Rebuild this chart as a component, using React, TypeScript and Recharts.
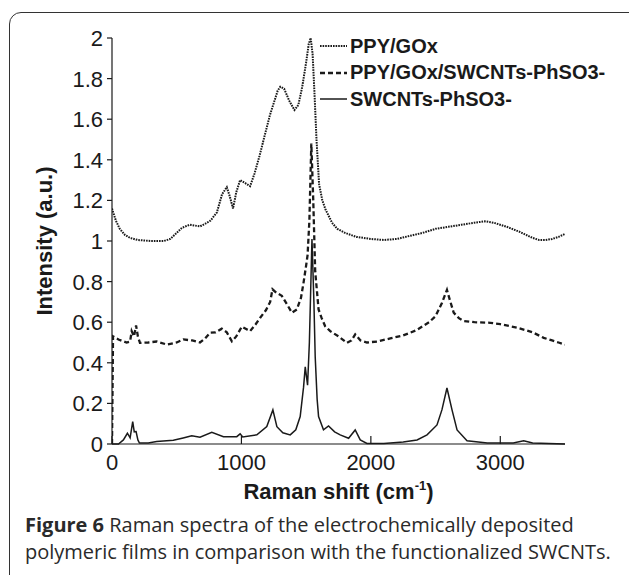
import React from 'react';
import { LineChart, Line, XAxis, YAxis, Label } from 'recharts';

// PPY/GOx (dotted, top trace)
const ppyShift = [0, 30, 60, 100, 140, 200, 300, 400, 450, 500, 540, 600, 680, 720, 760, 810, 850, 887, 910, 935, 960, 990, 1030, 1067, 1100, 1140, 1180, 1220, 1250, 1280, 1300, 1330, 1370, 1410, 1440, 1470, 1500, 1520, 1535, 1550, 1565, 1580, 1600, 1625, 1650, 1700, 1740, 1800, 1890, 2000, 2100, 2200, 2300, 2400, 2500, 2600, 2700, 2800, 2880, 2950, 3050, 3150, 3200, 3250, 3300, 3350, 3400, 3450, 3500];
const ppyIntensity = [1.16, 1.1, 1.06, 1.03, 1.015, 1.005, 1.0, 1.0, 1.01, 1.04, 1.065, 1.08, 1.072, 1.085, 1.1, 1.14, 1.23, 1.265, 1.22, 1.16, 1.24, 1.3, 1.285, 1.27, 1.33, 1.42, 1.52, 1.62, 1.68, 1.74, 1.76, 1.75, 1.69, 1.645, 1.67, 1.76, 1.88, 1.97, 2.0, 1.92, 1.72, 1.5, 1.28, 1.2, 1.155, 1.09, 1.06, 1.04, 1.02, 1.01, 1.005, 1.01, 1.025, 1.04, 1.06, 1.07, 1.08, 1.09, 1.097, 1.09, 1.07, 1.045, 1.03, 1.015, 1.005, 1.005, 1.01, 1.02, 1.035];

// PPY/GOx/SWCNTs-PhSO3- (dashed, middle trace)
const hybridShift = [0, 8, 50, 113, 140, 152, 170, 186, 200, 216, 280, 345, 423, 500, 551, 620, 680, 720, 758, 800, 848, 887, 926, 960, 1003, 1040, 1067, 1110, 1145, 1190, 1222, 1240, 1270, 1312, 1350, 1390, 1428, 1460, 1480, 1500, 1511, 1525, 1540, 1555, 1570, 1596, 1620, 1647, 1686, 1750, 1815, 1850, 1879, 1920, 1970, 2050, 2150, 2250, 2350, 2450, 2500, 2550, 2570, 2588, 2610, 2640, 2680, 2717, 2800, 2923, 3000, 3130, 3200, 3250, 3336, 3400, 3450, 3500];
const hybridIntensity = [0, 0.53, 0.515, 0.5, 0.505, 0.556, 0.53, 0.584, 0.53, 0.498, 0.5, 0.505, 0.49, 0.5, 0.515, 0.51, 0.5, 0.52, 0.548, 0.55, 0.568, 0.55, 0.506, 0.53, 0.578, 0.565, 0.556, 0.59, 0.622, 0.66, 0.7, 0.762, 0.745, 0.73, 0.69, 0.647, 0.663, 0.72, 0.795, 0.88, 0.93, 1.1, 1.48, 1.2, 0.85, 0.663, 0.62, 0.58, 0.556, 0.53, 0.498, 0.51, 0.54, 0.51, 0.5, 0.505, 0.52, 0.535, 0.56, 0.6, 0.63, 0.696, 0.73, 0.759, 0.71, 0.647, 0.62, 0.606, 0.6, 0.597, 0.59, 0.573, 0.56, 0.55, 0.523, 0.51, 0.5, 0.49];

// SWCNTs-PhSO3- (solid, bottom trace)
const swcntShift = [0, 50, 88, 119, 140, 160, 172, 186, 200, 212, 280, 345, 474, 550, 616, 680, 771, 861, 964, 990, 1010, 1119, 1196, 1243, 1274, 1320, 1377, 1420, 1454, 1480, 1493, 1511, 1525, 1545, 1560, 1570, 1585, 1596, 1634, 1673, 1720, 1763, 1828, 1879, 1918, 1970, 2100, 2250, 2357, 2434, 2511, 2549, 2588, 2627, 2666, 2743, 2900, 3100, 3181, 3250, 3500];
const swcntIntensity = [0, 0, 0.02, 0.053, 0.03, 0.11, 0.06, 0.061, 0.02, 0.005, 0.005, 0.012, 0.018, 0.03, 0.04, 0.033, 0.058, 0.036, 0.036, 0.05, 0.035, 0.045, 0.086, 0.168, 0.085, 0.055, 0.045, 0.07, 0.135, 0.28, 0.38, 0.29, 0.5, 1.01, 0.7, 0.43, 0.22, 0.135, 0.07, 0.089, 0.06, 0.045, 0.028, 0.069, 0.02, 0.003, 0.003, 0.01, 0.02, 0.045, 0.094, 0.168, 0.276, 0.168, 0.069, 0.016, 0.005, 0.005, 0.016, 0.005, 0];

const xTicks = [0, 1000, 2000, 3000];
const yTicks = [0, 0.2, 0.4, 0.6, 0.8, 1, 1.2, 1.4, 1.6, 1.8, 2];

const toPoints = (shift: number[], intensity: number[]) =>
  shift.map((s, i) => ({ shift: s, intensity: intensity[i] }));

const ppyData = toPoints(ppyShift, ppyIntensity);
const hybridData = toPoints(hybridShift, hybridIntensity);
const swcntData = toPoints(swcntShift, swcntIntensity);

const INK = '#1a1a1a';
const AXIS_FONT = '"Liberation Sans", Arial, sans-serif';

const series = [
  { name: 'PPY/GOx', data: ppyData, dash: '1.6 1', width: 2 },
  { name: 'PPY/GOx/SWCNTs-PhSO3-', data: hybridData, dash: '5 3', width: 2.3 },
  { name: 'SWCNTs-PhSO3-', data: swcntData, dash: undefined, width: 1.5 },
];

const XTick = ({ x, y, payload }: any) => (
  <g>
    <line x1={x} x2={x} y1={y} y2={y - 8} stroke={INK} strokeWidth={1.2} />
    <text x={x} y={y + 26} textAnchor="middle" fontSize={22} fill={INK} fontFamily={AXIS_FONT}>
      {payload.value}
    </text>
  </g>
);

const YTick = ({ x, y, payload }: any) => (
  <g>
    <line x1={x} x2={x - 5} y1={y} y2={y} stroke={INK} strokeWidth={1.2} />
    <text x={x - 9} y={y + 8} textAnchor="end" fontSize={22} fill={INK} fontFamily={AXIS_FONT}>
      {payload.value}
    </text>
  </g>
);

// legend drawn as an overlay so it does not eat plot height
const LegendBox = () => (
  <div
    style={{
      position: 'absolute', left: 320, top: 33,
      fontFamily: AXIS_FONT, fontWeight: 'bold', fontSize: 20, color: INK,
    }}
  >
    {series.map((s) => (
      <div key={s.name} style={{ display: 'flex', alignItems: 'center', height: 26.5 }}>
        <svg width={29} height={10} style={{ marginRight: 1 }}>
          <line x1={0} x2={27} y1={5} y2={5} stroke={INK} strokeWidth={s.width} strokeDasharray={s.dash} />
        </svg>
        <span>{s.name}</span>
      </div>
    ))}
  </div>
);

export default function App() {
  return (
    <div style={{ position: 'fixed', left: 0, top: 0, width: 629, height: 575, overflow: 'hidden', background: '#fff' }}>
      <div
        style={{
          position: 'absolute', left: 9, top: 12, width: 640, height: 600,
          border: '1.5px solid #333', borderRadius: 12, boxSizing: 'border-box',
        }}
      />
      <div style={{ position: 'absolute', left: 0, top: 0 }}>
        <LineChart width={629} height={575} margin={{ top: 38, right: 64, bottom: 101, left: 52 }}>
          <XAxis
            dataKey="shift"
            type="number"
            domain={[0, 3500]}
            ticks={xTicks}
            allowDataOverflow
            height={30}
            tickSize={0}
            tickMargin={0}
            tickLine={false}
            tick={<XTick />}
            stroke={INK}
            strokeWidth={1.2}
          >
            <Label
              content={({ viewBox }: any) => (
                <text
                  x={viewBox.x + viewBox.width / 2}
                  y={viewBox.y + 55}
                  textAnchor="middle"
                  fontSize={22}
                  fontWeight="bold"
                  fill={INK}
                  fontFamily={AXIS_FONT}
                >
                  Raman shift (cm<tspan fontSize={13} dy={-9}>-1</tspan><tspan dy={9}>)</tspan>
                </text>
              )}
            />
          </XAxis>
          <YAxis
            type="number"
            domain={[0, 2]}
            ticks={yTicks}
            width={60}
            tickSize={0}
            tickMargin={0}
            tickLine={false}
            tick={<YTick />}
            stroke={INK}
            strokeWidth={1.2}
          >
            <Label
              content={({ viewBox }: any) => {
                const cy = viewBox.y + viewBox.height / 2;
                return (
                  <text
                    x={52}
                    y={cy}
                    transform={`rotate(-90, 52, ${cy})`}
                    textAnchor="middle"
                    fontSize={22}
                    fontWeight="bold"
                    fill={INK}
                    fontFamily={AXIS_FONT}
                  >
                    Intensity (a.u.)
                  </text>
                );
              }}
            />
          </YAxis>
          {series.map((s) => (
            <Line
              key={s.name}
              name={s.name}
              data={s.data}
              dataKey="intensity"
              type="linear"
              dot={false}
              activeDot={false}
              stroke={INK}
              strokeWidth={s.width}
              strokeDasharray={s.dash}
              isAnimationActive={false}
            />
          ))}
        </LineChart>
      </div>
      <LegendBox />
      <div
        style={{
          position: 'absolute', left: 25, top: 511, width: 604,
          fontFamily: '"Open Sans", sans-serif', fontSize: 20, lineHeight: '27px', color: '#2a2a2a',
          whiteSpace: 'nowrap',
        }}
      >
        <b>Figure 6</b> Raman spectra of the electrochemically deposited
        <br />
        polymeric films in comparison with the functionalized SWCNTs.
      </div>
    </div>
  );
}
